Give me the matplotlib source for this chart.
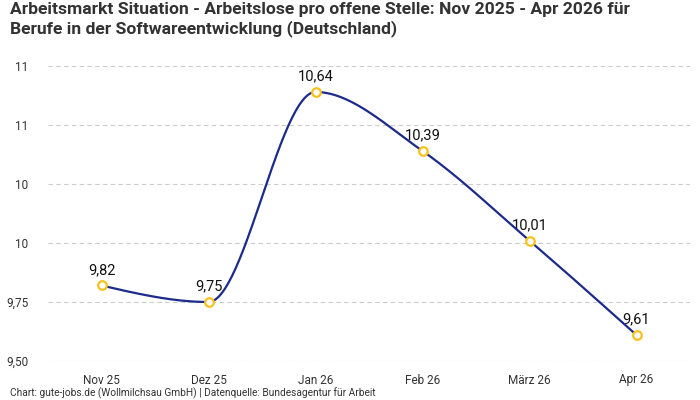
import numpy as np
import matplotlib
matplotlib.use("Agg")
import matplotlib.pyplot as plt

plt.rcParams['font.family'] = ['Roboto', 'DejaVu Sans']

months = ['Nov 25', 'Dez 25', 'Jan 26', 'Feb 26', 'März 26', 'Apr 26']
values = [9.82, 9.75, 10.64, 10.39, 10.01, 9.61]
value_labels = ['9,82', '9,75', '10,64', '10,39', '10,01', '9,61']
ytick_vals = [9.5, 9.75, 10.0, 10.25, 10.5, 10.75]
ytick_labels = ['9,50', '9,75', '10', '10', '11', '11']

title = ('Arbeitsmarkt Situation - Arbeitslose pro offene Stelle: Nov 2025 - Apr 2026 für\n'
         'Berufe in der Softwareentwicklung (Deutschland)')
footer = 'Chart: gute-jobs.de (Wollmilchsau GmbH) | Datenquelle: Bundesagentur für Arbeit'

line_color = '#1c2a8c'
marker_color = '#f7c21c'
text_color = '#333333'


# monotone cubic (like d3 curveMonotoneX) for the smooth line
def monotone_curve(x, y, n=60):
    x = np.asarray(x, float)
    y = np.asarray(y, float)
    h = np.diff(x)
    s = np.diff(y) / h
    t = np.zeros(len(x))
    for i in range(1, len(x) - 1):
        p = (s[i - 1] * h[i] + s[i] * h[i - 1]) / (h[i - 1] + h[i])
        t[i] = (np.sign(s[i - 1]) + np.sign(s[i])) * min(abs(s[i - 1]), abs(s[i]), 0.5 * abs(p))
    t[0] = (3 * s[0] - t[1]) / 2
    t[-1] = (3 * s[-1] - t[-2]) / 2
    xs, ys = [], []
    for i in range(len(x) - 1):
        u = np.linspace(0, 1, n)
        h00 = 2 * u**3 - 3 * u**2 + 1
        h10 = u**3 - 2 * u**2 + u
        h01 = -2 * u**3 + 3 * u**2
        h11 = u**3 - u**2
        xs.append(x[i] + u * h[i])
        ys.append(h00 * y[i] + h10 * h[i] * t[i] + h01 * y[i + 1] + h11 * h[i] * t[i + 1])
    return np.concatenate(xs), np.concatenate(ys)


fig = plt.figure(figsize=(7, 4), dpi=100)
ax = fig.add_axes([48 / 700, 39 / 400, 642 / 700, 295 / 400])

xpos = np.arange(len(months))
cx, cy = monotone_curve(xpos, values)
ax.plot(cx, cy, color=line_color, lw=1.6, zorder=3, clip_on=False)
ax.scatter(xpos, values, s=38, facecolor='white', edgecolor=marker_color,
           linewidth=1.6, zorder=4, clip_on=False)

for x, v, lab in zip(xpos, values, value_labels):
    ax.annotate(lab, (x, v), xytext=(0, 6), textcoords='offset points',
                ha='center', va='bottom', fontsize=10.5, color='#111111', zorder=2)

ax.set_xlim(-0.5, len(months) - 0.5)
ax.set_ylim(9.5, 10.75)
ax.set_xticks(xpos)
ax.set_xticklabels(months)
ax.set_yticks(ytick_vals)
ax.set_yticklabels(ytick_labels)
ax.tick_params(axis='both', length=0, labelsize=8.5, labelcolor=text_color)
ax.tick_params(axis='x', pad=9)
ax.tick_params(axis='y', pad=14)
ax.grid(axis='y', color='#cccccc', linestyle=(0, (4, 3)), linewidth=0.8)
for sp in ax.spines.values():
    sp.set_visible(False)

fig.text(10 / 700, 1 - 2 / 400, title, ha='left', va='top', fontsize=12.6,
         fontweight='bold', color=text_color, linespacing=1.2)
fig.text(10 / 700, 7 / 400, footer, ha='left', va='center', fontsize=7.3, color=text_color)

fig.savefig('out.png', dpi=100)
